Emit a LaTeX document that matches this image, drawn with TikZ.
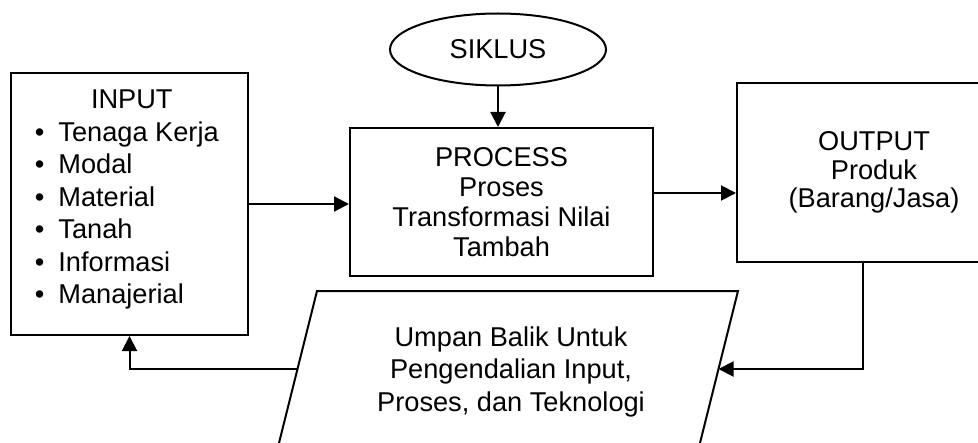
\documentclass[tikz,border=0pt]{standalone}
\usepackage{fontspec}
\setmainfont{Liberation Sans}
\usetikzlibrary{shapes.geometric, arrows.meta}

\tikzset{
    block/.style={draw, line width=1pt, rectangle, inner sep=0pt, align=center},
    arr/.style={line width=1pt, -{Triangle[length=7.5pt, width=7.5pt]}}
}

\begin{document}
\begin{tikzpicture}[x=0.5pt, y=-0.5pt, font=\fontsize{13.6}{16.25}\selectfont]
                \clip (0,0) rectangle (978,443);
                \node[block, ellipse, minimum width=108pt, minimum height=36pt] (siklus) at (498,49.5) {SIKLUS};
                \node[block, minimum width=151.5pt, minimum height=74pt,
                      font=\fontsize{13.6}{15}\selectfont] (process) at (501.5,202)
                      {PROCESS\\Proses\\Transformasi Nilai\\Tambah};
                \node[block, minimum width=118.5pt, minimum height=131pt] (input) at (129.5,204) {};
                \node[anchor=base west, inner sep=0pt] (inputlist) at (34.5,109)
                      {\begin{tabular}[t]{@{}l@{}}
                       \multicolumn{1}{@{}c@{}}{\hspace{5pt}INPUT}\\
                       \textbullet\hspace{7pt}Tenaga Kerja\\
                       \textbullet\hspace{7pt}Modal\\
                       \textbullet\hspace{7pt}Material\\
                       \textbullet\hspace{7pt}Tanah\\
                       \textbullet\hspace{7pt}Informasi\\
                       \textbullet\hspace{7pt}Manajerial
                       \end{tabular}};
                \node[block, minimum width=137pt, minimum height=89.5pt,
                      font=\fontsize{13.6}{14.25}\selectfont] (output) at (874,172.5)
                      {OUTPUT\\Produk\\(Barang/Jasa)};
                \coordinate (fbTL) at (317,291);
                \coordinate (fbTR) at (738,291);
                \coordinate (fbBR) at (695.5,461);
                \coordinate (fbBL) at (274.5,461);
                \draw[line width=1pt] (fbTL) -- (fbTR) -- (fbBR) -- (fbBL) -- cycle;
                \node[align=center, inner sep=0pt] (feedback) at (511,371.5)
                      {Umpan Balik Untuk\\Pengendalian Input,\\Proses, dan Teknologi};
                \coordinate (fbR) at (718.5,369);
                \coordinate (fbL) at (297.5,369);
                \coordinate (bend) at (863,369);
                \draw[arr] (input.east) -- (input.east -| process.west);
                \draw[arr] (siklus.south) -- (siklus.south |- process.north);
                \draw[arr] ([yshift=4.5pt]process.east) -- ([yshift=4.5pt]process.east -| output.west);
                \draw[arr] (bend |- output.south) -- (bend) -- (fbR);
                \draw[arr] (fbL) -| (input.south);
\end{tikzpicture}
\end{document}
